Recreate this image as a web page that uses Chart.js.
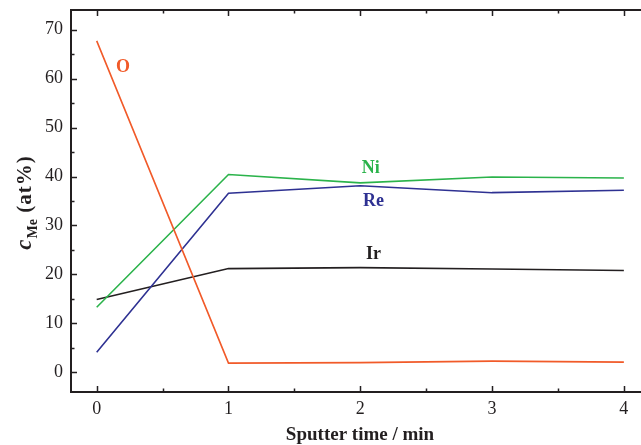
<!DOCTYPE html>
<html>
<head>
<meta charset="utf-8">
<script src="https://cdn.jsdelivr.net/npm/chart.js@4/dist/chart.umd.min.js"></script>
<style>
  html, body { margin: 0; padding: 0; background: #fff; }
  #wrap { width: 641px; height: 445px; }
</style>
</head>
<body>
<div id="wrap"><canvas id="chart" width="641" height="445"></canvas></div>
<script>
// sputter time (min)
var times = [0, 1, 2, 3, 4];
// concentrations, at%
var oxygen  = [67.7, 1.9, 2.0, 2.3, 2.1];
var nickel  = [13.3, 40.4, 38.7, 39.9, 39.7];
var rhenium = [4.1, 36.6, 38.1, 36.7, 37.2];
var iridium = [14.9, 21.2, 21.4, 21.1, 20.8];

var xTicks = [0, 1, 2, 3, 4];
var yTicks = [0, 10, 20, 30, 40, 50, 60, 70];

// in-plot series names: [text, x, y, colour]
var seriesLabels = [
  ['O', 0.20, 62.3, '#f15a29'],
  ['Ni', 2.08, 41.7, '#2bb34b'],
  ['Re', 2.10, 34.9, '#2e3192'],
  ['Ir', 2.10, 24.1, '#231f20']
];

var ink = '#231f20';
var serif = '"Liberation Serif", "Times New Roman", serif';

function toPoints(vals) {
  return times.map(function(t, i) { return { x: t, y: vals[i] }; });
}

var decorPlugin = {
  id: 'decor',
  afterDraw: function(chart) {
    var ctx = chart.ctx;
    var xs = chart.scales.x, ys = chart.scales.y;
    var area = chart.chartArea;
    ctx.save();
    // top frame line
    ctx.strokeStyle = ink;
    ctx.lineWidth = 2;
    ctx.beginPath();
    ctx.moveTo(area.left - 1, area.top);
    ctx.lineTo(area.right, area.top);
    ctx.stroke();

    // inward ticks
    ctx.lineWidth = 1.5;
    ctx.beginPath();
    for (var v = 0; v <= 4.001; v += 0.5) {
      var px = Math.round(xs.getPixelForValue(v)) + 0.5;
      var len = (Math.abs(v - Math.round(v)) < 0.01) ? 6 : 3.5;
      ctx.moveTo(px, area.bottom);
      ctx.lineTo(px, area.bottom - len);
      ctx.moveTo(px, area.top);
      ctx.lineTo(px, area.top + len);
    }
    for (var w = 0; w <= 70; w += 5) {
      var py = Math.round(ys.getPixelForValue(w)) + 0.5;
      var ln = (w % 10 === 0) ? 6 : 3.5;
      ctx.moveTo(area.left, py);
      ctx.lineTo(area.left + ln, py);
    }
    ctx.stroke();

    // series names
    ctx.font = 'bold 18px ' + serif;
    ctx.textAlign = 'center';
    ctx.textBaseline = 'middle';
    seriesLabels.forEach(function(l) {
      ctx.fillStyle = l[3];
      ctx.fillText(l[0], xs.getPixelForValue(l[1]), ys.getPixelForValue(l[2]));
    });

    // x title
    ctx.fillStyle = ink;
    ctx.font = 'bold 19px ' + serif;
    ctx.textBaseline = 'alphabetic';
    ctx.fillText('Sputter time / min', 360, 440);

    // y title: c_Me (at%)
    ctx.translate(31, 203);
    ctx.rotate(-Math.PI / 2);
    var f1 = 'italic bold 23px ' + serif;
    var f2 = 'bold 14px ' + serif;
    var f3 = 'bold 21px ' + serif;
    ctx.font = f1; var w1 = ctx.measureText('c').width;
    ctx.font = f2; var w2 = ctx.measureText('Me').width;
    ctx.font = f3; ctx.letterSpacing = '1px';
    var w3 = ctx.measureText(' (at%)').width;
    ctx.letterSpacing = '0px';
    var sx = -(w1 + w2 + w3) / 2;
    ctx.textAlign = 'left';
    ctx.font = f1; ctx.fillText('c', sx, 0);
    ctx.font = f2; ctx.fillText('Me', sx + w1 + 1, 6);
    ctx.font = f3; ctx.letterSpacing = '1px';
    ctx.fillText(' (at%)', sx + w1 + w2 + 1, 0);
    ctx.letterSpacing = '0px';
    ctx.restore();
  }
};

function lineSet(label, vals, color) {
  return {
    label: label,
    data: toPoints(vals),
    borderColor: color,
    backgroundColor: color,
    borderWidth: 1.6,
    pointRadius: 0,
    tension: 0,
    fill: false
  };
}

new Chart(document.getElementById('chart'), {
  type: 'line',
  data: {
    datasets: [
      lineSet('O', oxygen, '#f15a29'),
      lineSet('Ni', nickel, '#2bb34b'),
      lineSet('Re', rhenium, '#2e3192'),
      lineSet('Ir', iridium, ink)
    ]
  },
  options: {
    responsive: false,
    animation: false,
    layout: { padding: { top: 10, right: 0, left: 0, bottom: 0 } },
    plugins: { legend: { display: false }, tooltip: { enabled: false } },
    scales: {
      x: {
        type: 'linear',
        min: -0.195,
        max: 4.13,
        grid: { display: false, drawTicks: false },
        border: { display: true, color: ink, width: 2 },
        ticks: { color: ink, padding: 6, font: { family: serif, size: 18 } },
        afterBuildTicks: function(s) { s.ticks = xTicks.map(function(v) { return { value: v }; }); },
        afterFit: function(s) { s.height = 53; s.paddingLeft = 0; s.paddingRight = 0; }
      },
      y: {
        min: -4,
        max: 74,
        grid: { display: false, drawTicks: false },
        border: { display: true, color: ink, width: 2 },
        ticks: { color: ink, padding: 8, font: { family: serif, size: 18 } },
        afterBuildTicks: function(s) { s.ticks = yTicks.map(function(v) { return { value: v }; }); },
        afterFit: function(s) { s.width = 71; s.paddingTop = 0; s.paddingBottom = 0; }
      }
    }
  },
  plugins: [decorPlugin]
});
</script>
</body>
</html>
